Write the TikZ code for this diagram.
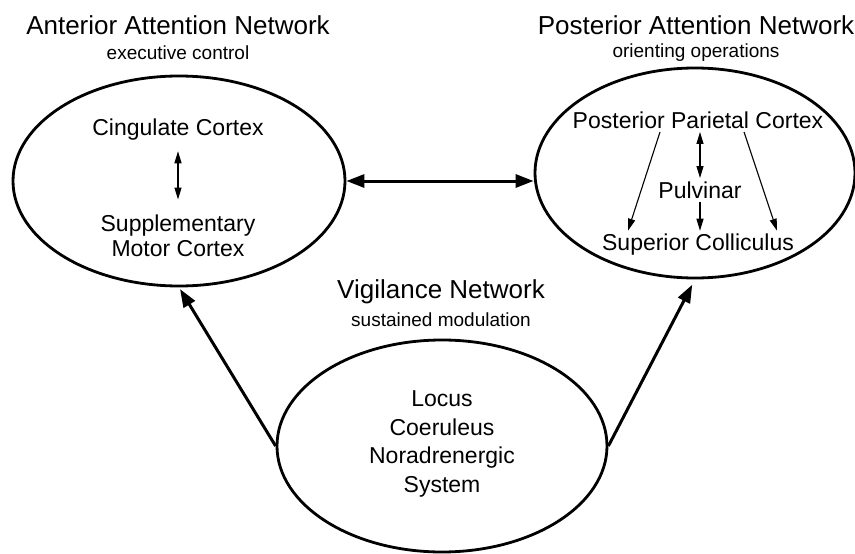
\documentclass[tikz,border=0pt]{standalone}
\usepackage{fontspec}
\setmainfont{Liberation Sans}
\usetikzlibrary{shapes.geometric,arrows.meta}

\begin{document}
\begin{tikzpicture}[x=1pt,y=-1pt,
    net/.style={ellipse,draw,line width=2.8pt,inner sep=0pt},
    netname/.style={font=\fontsize{26}{28}\selectfont},
    netsub/.style={font=\fontsize{19}{21}\selectfont},
    area/.style={font=\fontsize{23}{25}\selectfont,align=center},
    bigarrow/.style={line width=3pt,-{Triangle[length=18pt,width=13pt]}},
    bigtwoway/.style={line width=3pt,{Triangle[length=18pt,width=13pt]}-{Triangle[length=18pt,width=13pt]}},
    smallarrow/.style={line width=1.1pt,-{Triangle[length=12pt,width=7pt]}},
    smalltwoway/.style={line width=1.1pt,{Triangle[length=12pt,width=7pt]}-{Triangle[length=12pt,width=7pt]}}]
      \useasboundingbox (0,0) rectangle (855,554);
      \node [net,minimum width=332pt,minimum height=210pt] (anterior) at (179,181) {};
      \node [net,minimum width=320pt,minimum height=210pt] (posterior) at (695,173) {};
      \node [net,minimum width=330pt,minimum height=212pt] (vigilance) at (442,446) {};
      % network names
      \node [netname] (antname) at (178,25) {Anterior Attention Network};
      \node [netsub] (antsub) at (178,53) {executive control};
      \node [netname] (postname) at (696,25) {Posterior Attention Network};
      \node [netsub] (postsub) at (696,53) {orienting operations};
      \node [netname] (vigname) at (441,292) {Vigilance Network};
      \node [netsub] (vigsub) at (441,320) {sustained modulation};
      % anterior
      \node [area] (cingulate) at (178,130) {Cingulate Cortex};
      \node [area] (motor) at (178,236) {Supplementary\\Motor Cortex};
      \draw [smalltwoway,shorten <=7pt,shorten >=12pt] (cingulate) -- (motor);
      % posterior
      \node [area] (parietal) at (698,120) {Posterior Parietal Cortex};
      \node [area] (pulvinar) at (700,190) {Pulvinar};
      \node [area] (colliculus) at (698,245) {Superior Colliculus};
      \draw [smallarrow] ([xshift=-38pt]parietal.south) -- ([xshift=-70pt]colliculus.north);
      \draw [smallarrow] ([xshift=46pt]parietal.south) -- ([xshift=79pt]colliculus.north);
      \draw [smalltwoway] (pulvinar.north |- parietal.south) -- (pulvinar.north);
      \draw [smallarrow] (pulvinar.south) -- (pulvinar.south |- colliculus.north);
      % vigilance
      \node [area,font=\fontsize{23}{28.5}\selectfont] (locus) at (442,444) {Locus\\Coeruleus\\Noradrenergic\\System};
      % between networks
      \draw [bigtwoway] (anterior.east) -- (anterior.east -| posterior.west);
      \draw [bigarrow,shorten >=2pt] (vigilance.west) -- (anterior.south);
      \draw [bigarrow,shorten >=6pt] (vigilance.east) -- (posterior.south);
    \end{tikzpicture}
\end{document}
